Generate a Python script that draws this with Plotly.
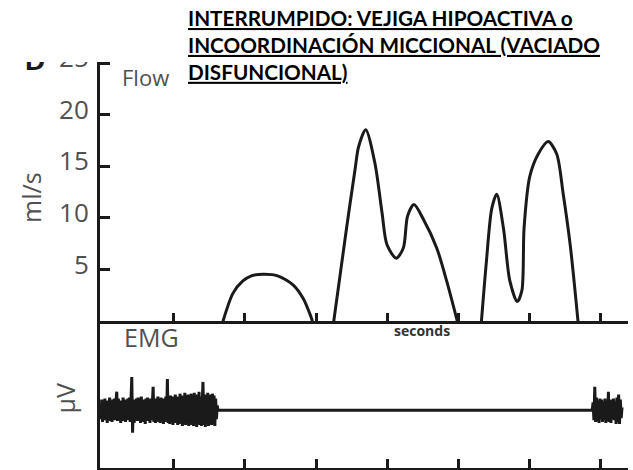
import plotly.graph_objects as go

# ---------------- data ----------------
# Uroflow humps (time in s, flow in ml/s)
HUMP1_T = [16.9, 18.3, 19.7, 20.9, 22.6, 24.6, 26.8, 28.2, 29.2, 29.5]
HUMP1_V = [0.0, 2.7, 3.9, 4.4, 4.55, 4.4, 3.5, 2.2, 0.6, 0.0]

HUMP2_T = [32.5, 34.3, 35.5, 36.0, 37.0, 38.3, 39.3, 40.0, 41.3, 42.3, 42.9, 43.8, 45.1, 47.0, 48.4, 49.9]
HUMP2_V = [0.0, 9.0, 14.7, 16.9, 18.55, 15.3, 10.5, 7.4, 6.1, 7.1, 10.2, 11.3, 9.9, 7.1, 3.9, 0.0]

HUMP3_T = [53.3, 54.0, 54.75, 55.45, 56.4, 57.3, 58.35, 59.0, 59.3, 60.1, 61.3, 62.7, 63.9, 64.8, 65.8, 66.9]
HUMP3_V = [0.0, 5.8, 10.9, 12.3, 9.0, 3.9, 1.9, 3.0, 9.0, 14.0, 16.2, 17.4, 16.2, 12.4, 7.4, 0.0]

FLOW_TICKS = [5, 10, 15, 20, 25]
TIME_TICKS = [10, 20, 30, 40, 50, 60, 70]

# Pelvic-floor EMG activity (arbitrary µV units), sampled bursts
EMG_BURST1_START, EMG_BURST1_END = -0.4, 16.2
EMG_BURST1 = [
    0.3, -0.9, 1.1, -1.2, 0.8, -1.0, 1.2, -0.7, 0.9, -1.3,
    1.0, -0.8, 1.3, -1.1, 0.7, -1.2, 1.1, -0.9, 1.2, -1.0,
    0.9, 1.9, -1.1, 1.2, -0.8, 1.0, -1.3, 0.8, -1.1, 1.3,
    -0.9, 1.1, -1.2, 0.9, -0.7, 1.2, -1.0, 1.3, -1.2, 0.8,
    3.4, -2.3, 1.1, -1.3, 0.9, -1.0, 1.2, -1.1, 1.3, -0.8,
    1.0, -1.3, 1.4, -1.0, 0.8, -1.2, 1.1, -1.4, 1.2, -0.9,
    1.3, -1.1, 1.0, -1.3, 1.2, -1.0, 1.4, 2.4, -1.2, 1.1,
    -1.3, 1.2, -1.0, 1.4, -1.2, 0.9, -1.3, 1.3, -1.1, 1.2,
    -1.4, 1.1, -1.2, 1.4, -1.0, 3.2, -1.3, 1.3, -1.4, 1.5,
    -1.2, 1.4, -1.5, 1.3, -1.1, 1.6, -1.3, 1.4, -1.5, 1.2,
    -1.4, 1.7, -1.2, 1.5, -1.6, 1.3, -1.4, 1.8, -1.5, 1.4,
    -1.3, 1.6, -1.6, 1.5, -1.2, 1.7, -1.5, 1.4, -1.6, 1.8,
    -1.4, 1.5, -1.7, 1.6, -1.3, 1.9, -1.5, 1.4, -1.6, 1.7,
    2.9, -1.5, 1.6, -1.7, 1.5, -1.4, 1.8, -1.6, 1.5, -1.3,
    1.6, -1.5, 1.7, -1.4, 1.5, -1.6, 1.2, -0.9, 0.5, 0.0,
]
EMG_BURST2_START, EMG_BURST2_END = 68.9, 73.1
EMG_BURST2 = [
    0.0, 0.8, -1.0, 2.4, -1.2, 1.3, -1.1, 1.0, -1.3, 1.2,
    -0.9, 1.1, -1.2, 0.9, -1.0, 1.2, -1.3, 0.8, -1.1, 1.9,
    -1.2, 1.0, -1.3, 1.1, -0.9, 1.2, -1.0, 0.9, -1.4, 1.3,
    -1.2, 1.6, -1.4, 1.1, -0.8, 0.3,
]

TITLE = ("<u>INTERRUMPIDO: VEJIGA HIPOACTIVA o</u><br>"
         "<u>INCOORDINACIÓN MICCIONAL (VACIADO</u><br>"
         "<u>DISFUNCIONAL)</u>")

# ---------------- helpers ----------------
W, H = 633, 470
INK = "#1a1a1a"
GREY = "#505050"


def fx(p):
    return p / W


def fy(p):
    return 1 - p / H


def sample_times(start, end, n):
    step = (end - start) / (n - 1)
    return [start + i * step for i in range(n)]


flow_x, flow_y = [], []
for ts, vs in ((HUMP1_T, HUMP1_V), (HUMP2_T, HUMP2_V), (HUMP3_T, HUMP3_V)):
    flow_x += ts + [None]
    flow_y += vs + [None]

emg_x = (sample_times(EMG_BURST1_START, EMG_BURST1_END, len(EMG_BURST1))
         + sample_times(EMG_BURST2_START, EMG_BURST2_END, len(EMG_BURST2)))
emg_y = EMG_BURST1 + EMG_BURST2

# ---------------- figure ----------------
fig = go.Figure()
fig.add_trace(go.Scatter(x=flow_x, y=flow_y, mode="lines", xaxis="x", yaxis="y",
                         line=dict(color=INK, width=3, shape="spline", smoothing=0.8),
                         connectgaps=False, hoverinfo="skip"))
fig.add_trace(go.Scatter(x=emg_x, y=emg_y, mode="lines", xaxis="x2", yaxis="y2",
                         line=dict(color=INK, width=3), hoverinfo="skip"))

x_dom = [fx(100), fx(628)]
x_range = [-0.42, 73.94]
common_x = dict(domain=x_dom, range=x_range, showline=True, linecolor=INK, linewidth=3,
                ticks="inside", tickcolor=INK, tickwidth=3, tickvals=TIME_TICKS,
                showticklabels=False, showgrid=False, zeroline=False)

fig.update_layout(
    width=W, height=H,
    margin=dict(l=0, r=0, t=0, b=0),
    paper_bgcolor="white", plot_bgcolor="white",
    showlegend=False,
    xaxis=dict(**common_x, anchor="y", ticklen=8),
    xaxis2=dict(**common_x, anchor="y2", ticklen=9, matches="x"),
    yaxis=dict(domain=[fy(318), fy(40)], range=[0, 26.35], anchor="x",
               showline=True, linecolor=INK, linewidth=3,
               ticks="inside", ticklen=10, tickwidth=3, tickcolor=INK,
               tickvals=FLOW_TICKS, ticklabelstandoff=3, ticklabelshift=-5,
               tickfont=dict(family="Open Sans", size=26, color=GREY),
               showgrid=False, zeroline=False),
    yaxis2=dict(domain=[fy(468), fy(318)], range=[-5.9, 9.1], anchor="x2",
                showline=True, linecolor=INK, linewidth=3, ticks="",
                showticklabels=False, showgrid=False, zeroline=False),
)

annotations = [
    # panel letter, mostly hidden under the heading band
    dict(text="<b>D</b>", x=fx(35), y=fy(52), font=dict(family="Arial", size=28, color=INK)),
    # white heading band
    dict(text=" ", x=0, y=1, xanchor="left", yanchor="top", width=186, height=52,
         bgcolor="white", borderpad=0, borderwidth=0),
    dict(text="Flow", x=fx(120), y=fy(68), xanchor="left",
         font=dict(family="Open Sans", size=22, color=GREY)),
    dict(text=TITLE, x=fx(186), y=fy(-6), xanchor="left", yanchor="top", align="left",
         font=dict(family="Lato", size=20.7, color="black", weight="bold")),
    dict(text="EMG", x=fx(122), y=fy(334), xanchor="left",
         font=dict(family="Open Sans", size=25, color=GREY)),
    dict(text="<b>seconds</b>", x=fx(422), y=fy(327),
         font=dict(family="Open Sans", size=14, color="#333333")),
    dict(text="ml/s", x=fx(31), y=fy(192), textangle=-90,
         font=dict(family="Open Sans", size=25, color=GREY)),
    dict(text="µV", x=fx(65), y=fy(397), textangle=-90,
         font=dict(family="Open Sans", size=25, color=GREY)),
]
for a in annotations:
    a.setdefault("xref", "paper")
    a.setdefault("yref", "paper")
    a.setdefault("xanchor", "center")
    a.setdefault("yanchor", "middle")
    a.setdefault("showarrow", False)
fig.update_layout(annotations=annotations)

fig.write_html("out.html")
